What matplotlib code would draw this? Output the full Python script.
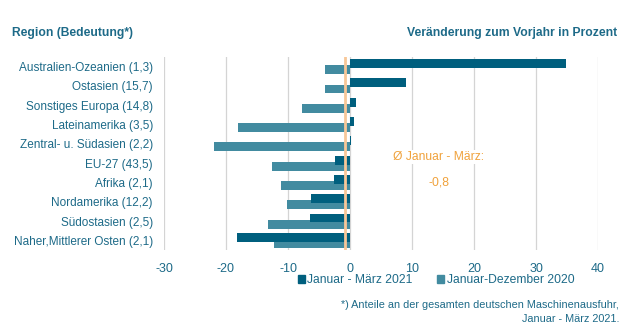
import matplotlib.pyplot as plt
from matplotlib.patches import Patch

plt.rcParams['font.family'] = ['Liberation Sans', 'DejaVu Sans']
plt.rcParams['axes.unicode_minus'] = False

regionen = ['Australien-Ozeanien (1,3)', 'Ostasien (15,7)', 'Sonstiges Europa (14,8)',
            'Lateinamerika (3,5)', 'Zentral- u. Südasien (2,2)', 'EU-27 (43,5)',
            'Afrika (2,1)', 'Nordamerika (12,2)', 'Südostasien (2,5)',
            'Naher,Mittlerer Osten (2,1)']
jan_maerz_2021 = [34.8, 9.1, 0.9, 0.6, 0.1, -2.4, -2.6, -6.3, -6.4, -18.2]
jan_dez_2020 = [-4.0, -4.1, -7.8, -18.1, -22.0, -12.6, -11.1, -10.2, -13.2, -12.2]
durchschnitt = -0.8

dunkel = '#005f7e'
hell = '#428ba0'
textfarbe = '#1d6a88'
orange = '#f8c798'

fig = plt.figure(figsize=(6.25, 3.28), dpi=100)
ax = fig.add_axes([164 / 625, 1 - 250 / 328, 434 / 625, 193 / 328])

pos = list(range(len(regionen)))
ax.barh([p + 0.16 for p in pos], jan_dez_2020, height=0.46, color=hell, zorder=2)
ax.barh([p - 0.16 for p in pos], jan_maerz_2021, height=0.46, color=dunkel, zorder=3)
ax.axvline(durchschnitt, color=orange, lw=2, zorder=4)

ax.set_xlim(-30, 40)
ax.set_ylim(9.5, -0.5)
ax.set_xticks(range(-30, 41, 10))
ax.set_yticks(pos)
ax.set_yticklabels(regionen)
ax.grid(axis='x', color='#d4d4d4', lw=0.9, zorder=0)
ax.set_axisbelow(True)
for s in ax.spines.values():
    s.set_visible(False)
ax.tick_params(length=0, labelsize=8.5, labelcolor=textfarbe)
ax.tick_params(axis='y', pad=8)
ax.tick_params(axis='x', pad=9, labelsize=9)

# Durchschnittswert als Beschriftung
box = dict(facecolor='white', edgecolor='none', pad=1)
ax.text(14.35, 4.68, 'Ø Januar - März:', color='#f0a23c', fontsize=8.7,
        ha='center', va='center', bbox=box, zorder=5)
ax.text(14.35, 5.98, '-0,8', color='#f0a23c', fontsize=8.7,
        ha='center', va='center', bbox=box, zorder=5)

fig.text(12 / 625, 1 - 33 / 328, 'Region (Bedeutung*)', color=textfarbe,
         fontsize=8.7, fontweight='bold', ha='left', va='center')
fig.text(617 / 625, 1 - 33 / 328, 'Veränderung zum Vorjahr in Prozent', color=textfarbe,
         fontsize=8.7, fontweight='bold', ha='right', va='center')

handles = [Patch(color=dunkel, label='Januar - März 2021'),
           Patch(color=hell, label='Januar-Dezember 2020')]
leg = fig.legend(handles=handles, loc='center', bbox_to_anchor=(436 / 625, 1 - 280 / 328),
                 ncol=2, frameon=False, fontsize=8.7, handlelength=0.6, handleheight=0.6,
                 handletextpad=0.2, columnspacing=2.0, borderpad=0)
for t in leg.get_texts():
    t.set_color(textfarbe)

fig.text(619 / 625, 1 - 305 / 328, '*) Anteile an der gesamten deutschen Maschinenausfuhr,',
         color=textfarbe, fontsize=7.8, ha='right', va='center')
fig.text(619 / 625, 1 - 319 / 328, 'Januar - März 2021.',
         color=textfarbe, fontsize=7.8, ha='right', va='center')

fig.savefig('out.png', dpi=100)
